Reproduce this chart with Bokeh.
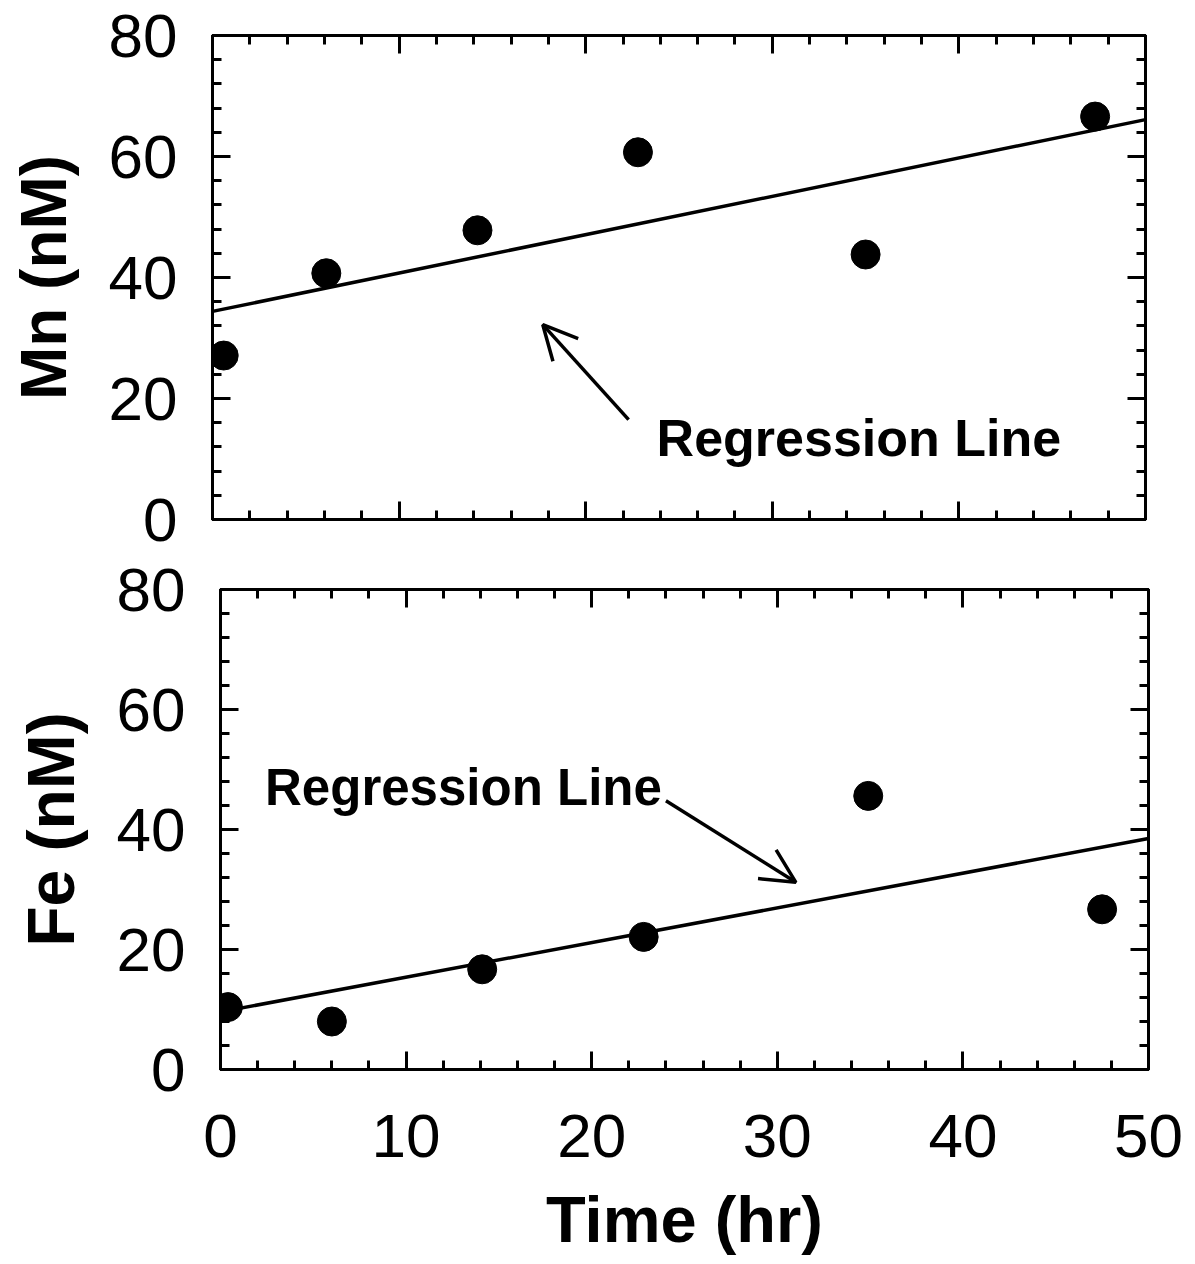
from bokeh.plotting import figure
from bokeh.models import Range1d, LinearAxis, SingleIntervalTicker, Arrow, OpenHead, ColumnDataSource, Spacer
from bokeh.layouts import column, row
from bokeh.core.properties import value
from bokeh.embed import file_html
from bokeh.resources import INLINE

# ---- data ----
time_mn = [0.6, 6.1, 14.2, 22.8, 35.0, 47.3]
mn_nM = [27.1, 40.7, 47.8, 60.7, 43.8, 66.6]
time_fe = [0.4, 6.0, 14.1, 22.8, 34.9, 47.5]
fe_nM = [10.4, 8.0, 16.7, 22.1, 45.6, 26.7]

fit_time = [0, 50]
mn_fit = [34.4, 66.1]
fe_fit = [9.6, 38.5]

annot_text = ["Regression Line"]
mn_annot_xy = [23.8, 13.4]
mn_arrow = [22.3, 16.5, 17.7, 32.2]
fe_annot_xy = [2.4, 47.0]
fe_arrow = [24.0, 44.8, 31.0, 31.2]

FONT = "Liberation Sans"


def style_axis(ax, labels=True):
    ax.axis_line_width = 3
    ax.axis_line_color = "black"
    ax.major_tick_line_width = 3
    ax.minor_tick_line_width = 3
    ax.major_tick_in = 18
    ax.major_tick_out = 0
    ax.minor_tick_in = 9
    ax.minor_tick_out = 0
    ax.major_label_text_font = FONT
    ax.major_label_text_color = "black"
    if labels:
        ax.major_label_text_font_size = "62px"
    else:
        ax.major_label_text_font_size = "0px"
        ax.major_label_standoff = 0


def make_panel(ylabel, ylabel_size, xs, ys, fit, annot_xy, annot_size, arrow, show_x,
               fw, fh, border_top, border_bottom, border_left, border_right):
    p = figure(frame_width=fw, frame_height=fh, output_backend="svg", toolbar_location=None,
               x_range=Range1d(0, 50), y_range=Range1d(0, 80),
               min_border_top=border_top, min_border_bottom=border_bottom,
               min_border_left=border_left, min_border_right=border_right,
               x_axis_type=None, y_axis_type=None)
    p.xgrid.visible = False
    p.ygrid.visible = False
    p.outline_line_color = "black"
    p.outline_line_width = 3
    p.background_fill_color = "white"
    p.border_fill_color = "white"

    xb = LinearAxis(ticker=SingleIntervalTicker(interval=10, num_minor_ticks=5))
    style_axis(xb, labels=show_x)
    if show_x:
        xb.major_label_standoff = 45
        xb.axis_label = "Time (hr)"
        xb.axis_label_text_font = FONT
        xb.axis_label_text_font_style = "bold"
        xb.axis_label_text_font_size = "65px"
        xb.axis_label_standoff = 23
        xb.axis_label_text_color = "black"
    p.add_layout(xb, "below")

    xa = LinearAxis(ticker=SingleIntervalTicker(interval=10, num_minor_ticks=5))
    style_axis(xa, labels=False)
    p.add_layout(xa, "above")

    yl = LinearAxis(ticker=SingleIntervalTicker(interval=20, num_minor_ticks=5))
    style_axis(yl, labels=True)
    yl.major_label_standoff = 35
    yl.axis_label = ylabel
    yl.axis_label_text_font = FONT
    yl.axis_label_text_font_style = "bold"
    yl.axis_label_text_font_size = ylabel_size
    yl.axis_label_standoff = 26
    yl.axis_label_text_color = "black"
    p.add_layout(yl, "left")

    yr = LinearAxis(ticker=SingleIntervalTicker(interval=20, num_minor_ticks=5))
    style_axis(yr, labels=False)
    p.add_layout(yr, "right")

    p.line(fit_time, fit, line_color="black", line_width=3.5)
    p.scatter(xs, ys, size=29, marker="circle", fill_color="black", line_color="black")

    src = ColumnDataSource(dict(x=[annot_xy[0]], y=[annot_xy[1]], t=annot_text))
    p.text(x="x", y="y", text="t", source=src, text_font=value(FONT), text_font_style="bold",
           text_font_size=annot_size, text_align="left", text_baseline="alphabetic", text_color="black")
    p.add_layout(Arrow(end=OpenHead(size=34, line_width=3.5, line_color="black"),
                       x_start=arrow[0], y_start=arrow[1], x_end=arrow[2], y_end=arrow[3],
                       line_width=3.5, line_color="black"))
    return p


p1 = make_panel("Mn (nM)", "64px", time_mn, mn_nM, mn_fit, mn_annot_xy, "52px", mn_arrow, False,
                fw=933, fh=484, border_top=35, border_bottom=35, border_left=204, border_right=12)
p2 = make_panel("Fe (nM)", "66px", time_fe, fe_nM, fe_fit, fe_annot_xy, "51px", fe_arrow, True,
                fw=928, fh=480, border_top=35, border_bottom=184, border_left=204, border_right=35)

layout = column(row(Spacer(width=4, height=10), p1, spacing=0),
                row(Spacer(width=10, height=10), p2, spacing=0), spacing=0)
open("out.html", "w").write(file_html(layout, INLINE))
